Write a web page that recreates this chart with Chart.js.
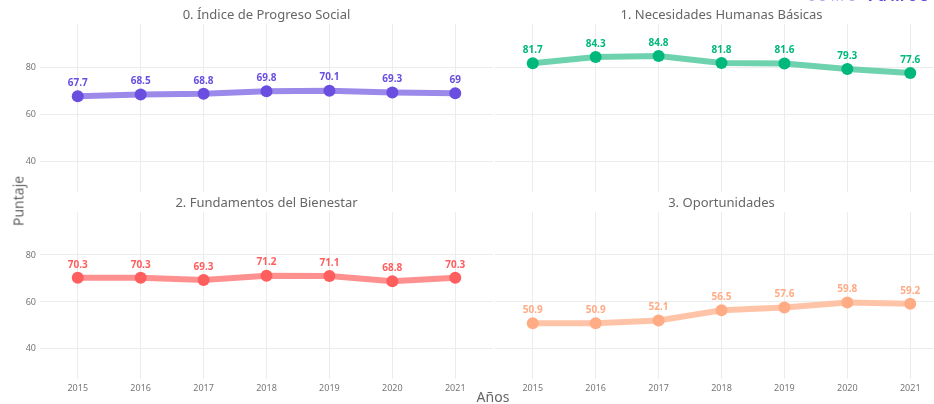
<!DOCTYPE html>
<html>
<head>
<meta charset="utf-8">
<script src="https://cdn.jsdelivr.net/npm/chart.js@4"></script>
<style>
  body { margin: 0; background: #fff; width: 934px; height: 404px; overflow: hidden; position: relative; font-family: "Noto Sans", sans-serif; }
  .panel { position: absolute; }
  #ylab { position: absolute; left: 18px; top: 201px; transform: translate(-50%, -50%) rotate(-90deg); font-size: 14px; color: #666; }
  #xlab { position: absolute; left: 493px; top: 396px; transform: translate(-50%, -50%); font-size: 14px; color: #666; }
  #logo { position: absolute; right: 2px; top: -14px; font-size: 14px; letter-spacing: 4px; color: #b4a8f0; white-space: nowrap; }
  #logo b { color: #6a4de0; margin-left: 6px; }
</style>
</head>
<body>
<div class="panel" style="left:0;top:0;width:493px;height:192px"><canvas id="c0"></canvas></div>
<div class="panel" style="left:495px;top:0;width:453px;height:192px"><canvas id="c1"></canvas></div>
<div class="panel" style="left:0;top:192px;width:493px;height:212px"><canvas id="c2"></canvas></div>
<div class="panel" style="left:495px;top:192px;width:453px;height:212px"><canvas id="c3"></canvas></div>
<div id="ylab">Puntaje</div>
<div id="xlab">Años</div>
<div id="logo">como<b>vamos</b></div>
<script>
// =====================
// DATA
// =====================
const years = [2015, 2016, 2017, 2018, 2019, 2020, 2021];
const yTicks = [40, 60, 80];

const titles = [
  "0. Índice de Progreso Social",
  "1. Necesidades Humanas Básicas",
  "2. Fundamentos del Bienestar",
  "3. Oportunidades"
];

const ips = [67.7, 68.5, 68.8, 69.8, 70.1, 69.3, 69];
const necesidades = [81.7, 84.3, 84.8, 81.8, 81.6, 79.3, 77.6];
const fundamentos = [70.3, 70.3, 69.3, 71.2, 71.1, 68.8, 70.3];
const oportunidades = [50.9, 50.9, 52.1, 56.5, 57.6, 59.8, 59.2];

const pointColors = ["#6a4ee0", "#00b87c", "#ff5e5e", "#ffac85"];
const lineColors = ["#9c8aea", "#6fd2ae", "#ff9090", "#ffc4a8"];

// =====================
// PLUGINS
// =====================
const panelTitle = {
  id: "panelTitle",
  afterDraw(chart, args, opts) {
    const ctx = chart.ctx, a = chart.chartArea;
    ctx.save();
    ctx.font = "13px 'Noto Sans'";
    ctx.fillStyle = "#666";
    ctx.textAlign = "center";
    ctx.textBaseline = "middle";
    ctx.fillText(opts.text, (a.left + a.right) / 2, a.top - 9);
    ctx.restore();
  }
};

const valueLabels = {
  id: "valueLabels",
  afterDatasetsDraw(chart) {
    const ctx = chart.ctx;
    const ds = chart.data.datasets[0];
    ctx.save();
    ctx.font = "bold 10px 'Noto Sans'";
    ctx.fillStyle = ds.pointBackgroundColor;
    ctx.textAlign = "center";
    ctx.textBaseline = "middle";
    chart.getDatasetMeta(0).data.forEach((p, i) => {
      ctx.fillText(String(ds.data[i].y), p.x, p.y - 13);
    });
    ctx.restore();
  }
};

// =====================
// CHARTS
// =====================
function drawPanel(id, idx, values, showY, showX) {
  const grid = { color: "#ececec", lineWidth: 1, drawTicks: false };
  new Chart(document.getElementById(id), {
    type: "line",
    data: {
      datasets: [{
        data: values.map((v, i) => ({ x: years[i], y: v })),
        borderColor: lineColors[idx],
        borderWidth: 6,
        pointBackgroundColor: pointColors[idx],
        pointBorderColor: pointColors[idx],
        pointBorderWidth: 0,
        pointRadius: 6,
        tension: 0
      }]
    },
    options: {
      responsive: true,
      maintainAspectRatio: false,
      animation: false,
      layout: { autoPadding: false, padding: { top: showX ? 20 : 24, left: 0, right: 0, bottom: 0 } },
      plugins: {
        legend: { display: false },
        tooltip: { enabled: false },
        panelTitle: { text: titles[idx] }
      },
      scales: {
        x: {
          type: "linear",
          min: 2014.4,
          max: 2021.6,
          afterBuildTicks: s => { s.ticks = years.map(v => ({ value: v })); },
          afterFit: s => { s.height = showX ? 25 : 0; s.paddingLeft = 0; s.paddingRight = 0; },
          border: { display: false },
          grid: grid,
          ticks: {
            display: showX,
            padding: 4,
            color: "#777",
            font: { family: "Noto Sans", size: 9 },
            callback: v => String(v)
          }
        },
        y: {
          min: 27.2,
          max: 98.3,
          afterBuildTicks: s => { s.ticks = yTicks.map(v => ({ value: v })); },
          afterFit: s => { s.width = showY ? 40 : 0; s.paddingTop = 0; s.paddingBottom = 0; },
          border: { display: false },
          grid: grid,
          ticks: {
            display: showY,
            padding: 4,
            color: "#777",
            font: { family: "Noto Sans", size: 9 }
          }
        }
      }
    },
    plugins: [panelTitle, valueLabels]
  });
}

drawPanel("c0", 0, ips, true, false);
drawPanel("c1", 1, necesidades, false, false);
drawPanel("c2", 2, fundamentos, true, true);
drawPanel("c3", 3, oportunidades, false, true);
</script>
</body>
</html>
